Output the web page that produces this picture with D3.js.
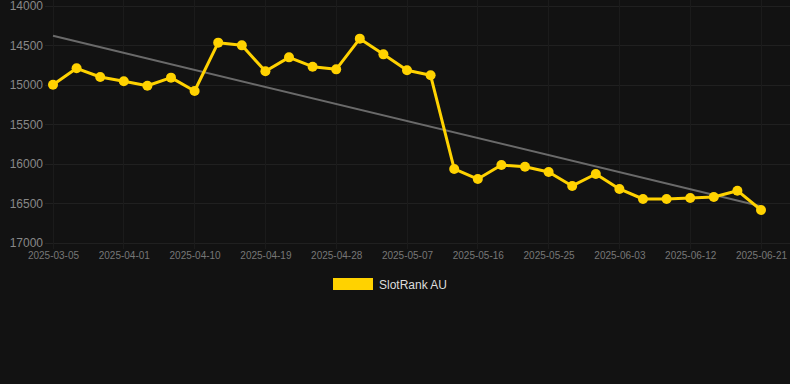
<!DOCTYPE html>
<html><head><meta charset="utf-8">
<script src="https://cdn.jsdelivr.net/npm/d3@7"></script>
<style>
html,body{margin:0;padding:0;background:#121212;}
svg{display:block;}
</style></head>
<body>
<script>
const dates = ["2025-03-05","2025-03-26","2025-03-29","2025-04-01","2025-04-04","2025-04-07","2025-04-10","2025-04-13","2025-04-16","2025-04-19","2025-04-22","2025-04-25","2025-04-28","2025-05-01","2025-05-04","2025-05-07","2025-05-10","2025-05-13","2025-05-16","2025-05-19","2025-05-22","2025-05-25","2025-05-28","2025-05-31","2025-06-03","2025-06-06","2025-06-09","2025-06-12","2025-06-15","2025-06-18","2025-06-21"];
const ranks = [14996,14789,14899,14953,15009,14907,15076,14464,14498,14827,14650,14768,14802,14413,14612,14814,14877,16063,16190,16013,16034,16101,16278,16127,16316,16443,16443,16430,16418,16338,16582];
const yTicks = [14000,14500,15000,15500,16000,16500,17000];
const seriesName = "SlotRank AU";

const W = 790, H = 384;
const svg = d3.select("body").append("svg").attr("width", W).attr("height", H);
const x = d3.scalePoint().domain(dates).range([53, 761]).padding(0);
const y = d3.scaleLinear().domain([14000, 17000]).range([6, 243]);
const xTickVals = dates.filter((d, i) => i % 3 === 0);

// grid
svg.append("g").selectAll("line").data(yTicks).join("line")
  .attr("x1", 45).attr("x2", W).attr("y1", d => y(d)).attr("y2", d => y(d))
  .attr("stroke", "#202020").attr("stroke-width", 1).attr("shape-rendering", "crispEdges");
svg.append("g").selectAll("line").data(xTickVals).join("line")
  .attr("x1", d => x(d)).attr("x2", d => x(d)).attr("y1", 0).attr("y2", 249)
  .attr("stroke", "#1b1b1b").attr("stroke-width", 1).attr("shape-rendering", "crispEdges");

// y axis labels
const yAxis = d3.axisLeft(y).tickValues(yTicks).tickSize(0).tickPadding(0).tickFormat(d3.format("d"));
const gy = svg.append("g").attr("transform", "translate(43,0)").call(yAxis);
gy.select(".domain").remove();
gy.selectAll("text").attr("fill", "#888").attr("font-family", "Liberation Sans, Arial, sans-serif").attr("font-size", 12);

// x axis labels
const xAxis = d3.axisBottom(x).tickValues(xTickVals).tickSize(0).tickPadding(0);
const gx = svg.append("g").attr("transform", "translate(0,252)").call(xAxis);
gx.select(".domain").remove();
gx.selectAll("text").attr("fill", "#777").attr("font-family", "Liberation Sans, Arial, sans-serif").attr("font-size", 10);

// trend line (least squares)
const n = ranks.length;
const idx = d3.range(n);
const mx = d3.mean(idx), my = d3.mean(ranks);
const slope = d3.sum(idx, i => (i - mx) * (ranks[i] - my)) / d3.sum(idx, i => (i - mx) ** 2);
const icpt = my - slope * mx;
svg.append("line")
  .attr("x1", x(dates[0])).attr("y1", y(icpt))
  .attr("x2", x(dates[n - 1])).attr("y2", y(icpt + slope * (n - 1)))
  .attr("stroke", "#6a6a6a").attr("stroke-width", 2);

// series line
const line = d3.line().x((d, i) => x(dates[i])).y(d => y(d));
svg.append("path").datum(ranks).attr("d", line)
  .attr("fill", "none").attr("stroke", "#FFD200").attr("stroke-width", 3).attr("stroke-linejoin", "round");
svg.append("g").selectAll("circle").data(ranks).join("circle")
  .attr("cx", (d, i) => x(dates[i])).attr("cy", d => y(d)).attr("r", 5)
  .attr("fill", "#FFD200");

// legend
svg.append("rect").attr("x", 333).attr("y", 278).attr("width", 40).attr("height", 12).attr("fill", "#FFD200");
svg.append("text").attr("x", 379).attr("y", 288.5).text(seriesName)
  .attr("fill", "#ddd").attr("font-family", "Liberation Sans, Arial, sans-serif").attr("font-size", 12);
</script>
</body></html>
